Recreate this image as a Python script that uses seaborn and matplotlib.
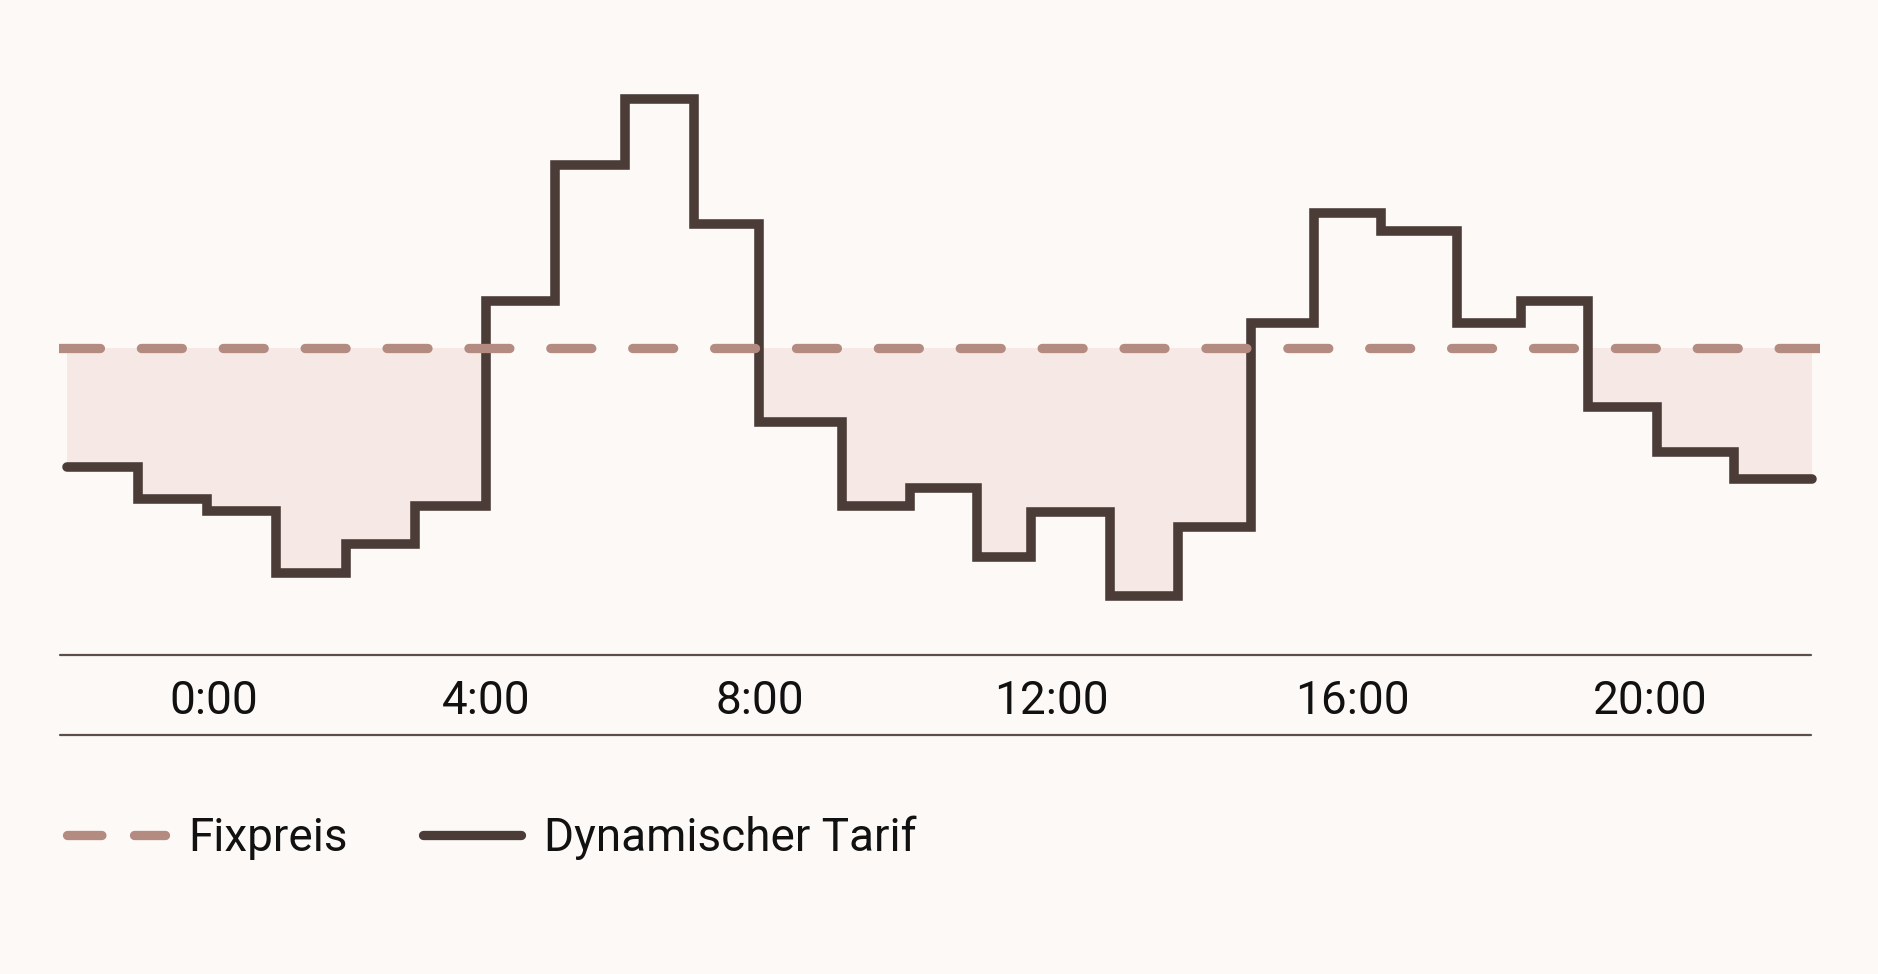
import matplotlib
matplotlib.use("Agg")
import numpy as np
import pandas as pd
import seaborn as sns
import matplotlib.pyplot as plt
from matplotlib.lines import Line2D
from matplotlib.transforms import blended_transform_factory

# step boundaries in hours (last entry = end of the last step)
hours = [-2.0, -0.98, 0.0, 0.99, 2.0, 2.99, 4.0, 4.99, 5.99, 6.98, 7.91, 9.1,
         10.08, 11.04, 11.81, 12.94, 13.92, 14.96, 15.87, 16.83, 17.91, 18.83,
         19.79, 20.78, 21.88, 23.0]
# dynamic tariff per step (ct/kWh)
dynamic = [18.05, 14.84, 13.67, 7.47, 10.43, 14.19, 34.68, 48.32, 54.86,
           42.36, 22.63, 14.15, 15.95, 9.06, 13.6, 5.2, 12.09, 32.48, 43.5,
           41.64, 32.48, 34.65, 24.07, 19.6, 16.84]
fixed_price = 30.0

tick_hours = [0.1, 4.0, 7.93, 12.1, 16.42, 20.68]
tick_labels = ["0:00", "4:00", "8:00", "12:00", "16:00", "20:00"]
legend_labels = ["Fixpreis", "Dynamischer Tarif"]

bg = "#fdf9f6"
fill_col = "#f6e8e5"
dash_col = "#b38b80"
line_col = "#4b3c38"
rule_col = "#5c4f4a"
text_col = "#111111"

sns.set_theme(style="white", rc={"axes.facecolor": bg, "figure.facecolor": bg})
plt.rcParams["font.family"] = ["Roboto", "DejaVu Sans"]

W, H = 1878, 974
fig = plt.figure(figsize=(W / 100, H / 100), dpi=100)
ax = fig.add_axes([58.5 / W, 1 - 640 / H, (1819.5 - 58.5) / W, 600 / H])

df = pd.DataFrame({"hour": hours, "price": dynamic + [dynamic[-1]]})

# shaded area where the dynamic tariff is below the fixed price
ax.fill_between(df["hour"], np.minimum(df["price"], fixed_price), fixed_price,
                step="post", color=fill_col, lw=0, zorder=1)

sns.lineplot(data=df, x="hour", y="price", ax=ax, drawstyle="steps-post",
             color=line_col, lw=6.9, solid_capstyle="round",
             solid_joinstyle="miter", zorder=3)

ax.axhline(fixed_price, color=dash_col, lw=6.7, dashes=(4.4, 4.4),
           dash_capstyle="round", zorder=4)

ax.set_xlim(-2.122, 23.107)
ax.set_ylim(0.79, 60.79)
ax.set_axis_off()

# band with the time labels
for yy in [655, 735]:
    fig.add_artist(Line2D([60 / W, 1811 / W], [1 - yy / H, 1 - yy / H],
                          transform=fig.transFigure, color=rule_col, lw=1.6))
trans = blended_transform_factory(ax.transData, fig.transFigure)
for h, lab in zip(tick_hours, tick_labels):
    ax.text(h, 1 - 713.5 / H, lab, transform=trans, ha="center",
            va="baseline", fontsize=33, color=text_col)

handles = [
    Line2D([], [], color=dash_col, lw=6.7, dashes=(3.7, 3.5),
           dash_capstyle="round"),
    Line2D([], [], color=line_col, lw=6.7, solid_capstyle="round"),
]
fig.legend(handles, legend_labels, loc="center left",
           bbox_to_anchor=(67 / W, 1 - 838 / H), ncol=2, frameon=False,
           borderpad=0, borderaxespad=0, handlelength=2.14, handletextpad=0.5,
           columnspacing=1.65, fontsize=33, labelcolor=text_col)

fig.savefig("out.png", dpi=100, facecolor=bg)
